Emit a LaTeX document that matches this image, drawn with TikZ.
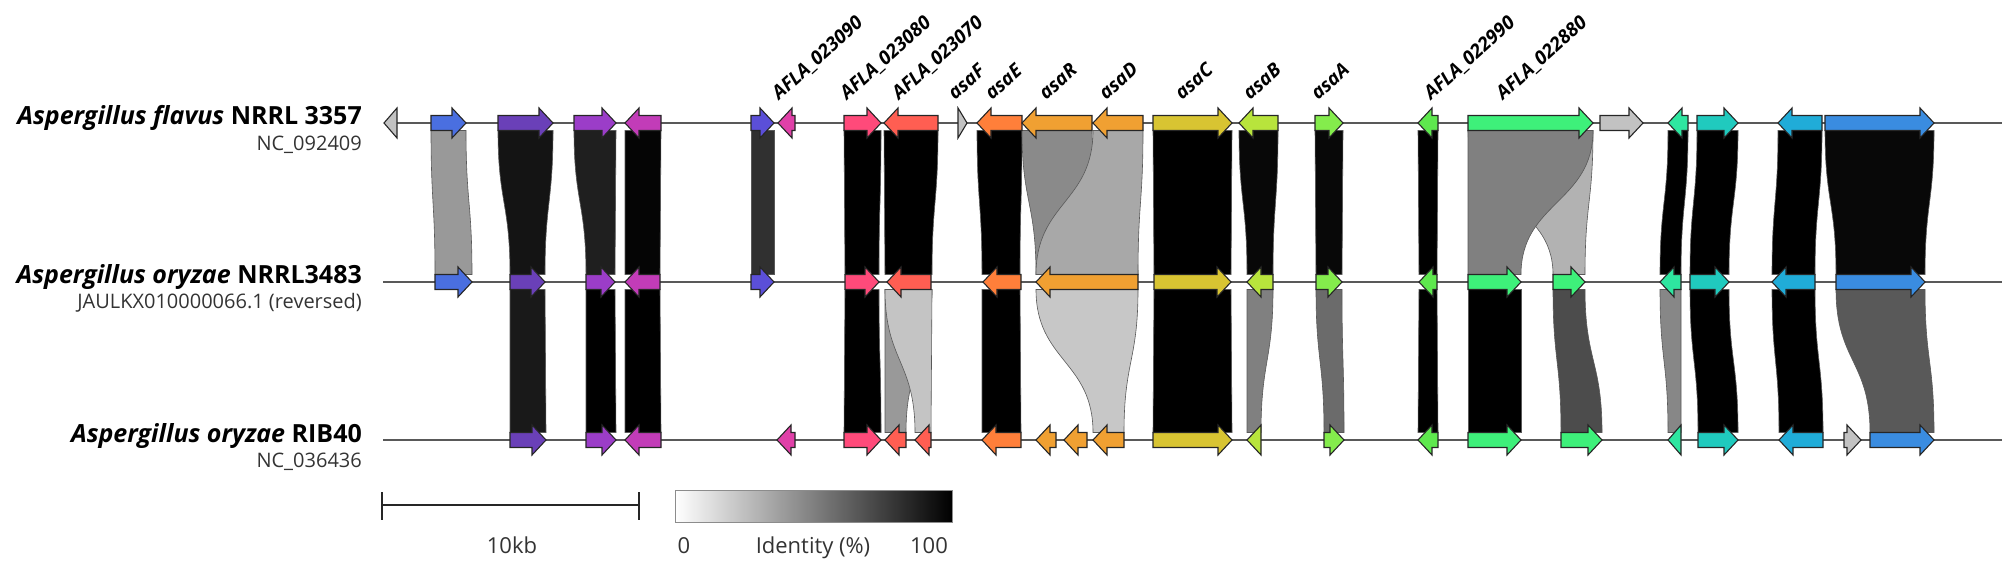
\documentclass[tikz,border=0pt]{standalone}
\usepackage{fontspec}
\setmainfont{Open Sans}
\definecolor{cgray}{HTML}{C2C2C2}
\definecolor{cblueA}{HTML}{4A6FE0}
\definecolor{cpurple}{HTML}{6A40B8}
\definecolor{cviolet}{HTML}{9B3DC8}
\definecolor{cmagenta}{HTML}{C23CB8}
\definecolor{cbviolet}{HTML}{5B4FD8}
\definecolor{cmagB}{HTML}{E040A8}
\definecolor{cpink}{HTML}{FF4A7A}
\definecolor{csalmon}{HTML}{FF5E52}
\definecolor{corangeE}{HTML}{FF7F3A}
\definecolor{corangeR}{HTML}{F0A032}
\definecolor{cyellow}{HTML}{D8C432}
\definecolor{clime}{HTML}{B8E43C}
\definecolor{cgreenA}{HTML}{84EC4C}
\definecolor{cgreenB}{HTML}{5EE84E}
\definecolor{cgreenC}{HTML}{3EF07A}
\definecolor{ctealg}{HTML}{2EE6A0}
\definecolor{cteal}{HTML}{20CABE}
\definecolor{ccyan}{HTML}{20ACD8}
\definecolor{cblueB}{HTML}{3A8CE0}
\definecolor{txtgray}{HTML}{333333}
\tikzset{
  genebox/.style={draw=black!85, line width=1.1pt, line join=miter},
  bandbox/.style={draw=black!65, line width=0.6pt},
  trackline/.style={draw=black!65, line width=1.6pt},
  genelabel/.style={anchor=base west, rotate=42, inner sep=0pt, font=\fontsize{19}{22}\selectfont\bfseries\itshape},
  species/.style={anchor=base east, inner sep=0pt, font=\fontsize{25}{29}\selectfont\bfseries},
  acc/.style={anchor=base east, inner sep=0pt, text=txtgray, font=\fontsize{20}{23}\selectfont},
  legendtxt/.style={anchor=base, inner sep=0pt, text=txtgray, font=\fontsize{22}{25}\selectfont},
}
\newcommand{\drawgene}[5]{%
  \pgfmathsetmacro\ghead{min(14,#2-#1)}%
  \if#4r%
    \filldraw[genebox,fill=#5] (#1,#3-7.5) -- ({#2-\ghead},#3-7.5) -- ({#2-\ghead},#3-15) -- (#2,#3) -- ({#2-\ghead},#3+15) -- ({#2-\ghead},#3+7.5) -- (#1,#3+7.5) -- cycle;
  \else
    \filldraw[genebox,fill=#5] (#2,#3-7.5) -- ({#1+\ghead},#3-7.5) -- ({#1+\ghead},#3-15) -- (#1,#3) -- ({#1+\ghead},#3+15) -- ({#1+\ghead},#3+7.5) -- (#2,#3+7.5) -- cycle;
  \fi}
% top x1 x2, bottom x3 x4, y1 y2, fill
\newcommand{\drawband}[7]{%
  \pgfmathsetmacro\ymid{(#5+#6)/2}%
  \filldraw[bandbox,fill=#7] (#1,#5) .. controls (#1,\ymid) and (#3,\ymid) .. (#3,#6) -- (#4,#6) .. controls (#4,\ymid) and (#2,\ymid) .. (#2,#5) -- cycle;}
\newcommand{\bandTM}[5]{\drawband{#1}{#2}{#3}{#4}{130.5}{274.5}{#5}}
\newcommand{\bandMB}[5]{\drawband{#1}{#2}{#3}{#4}{289.5}{432.5}{#5}}
\begin{document}
\begin{tikzpicture}[x=1pt,y=-1pt]
\useasboundingbox (0,0) rectangle (2008,567);
% ---- bands top -> middle
\bandTM{431}{466}{435}{472}{black!40}
\bandTM{498}{553}{510}{545}{black!92}
\bandTM{574}{616}{586}{615}{black!88}
\bandTM{625}{661}{625}{660}{black!98}
\bandTM{751}{774}{751}{774}{black!81}
\bandTM{844}{881}{845}{879}{black}
\bandTM{884}{938}{885}{932}{black}
\bandTM{977}{1022}{982}{1020}{black}
\bandTM{1022}{1092}{1036}{1138}{black!46}
\bandTM{1093}{1143}{1036}{1138}{black!34}
\bandTM{1153}{1232}{1154}{1231}{black}
\bandTM{1239}{1278}{1247}{1273}{black!97}
\bandTM{1315}{1343}{1316}{1342}{black!97}
\bandTM{1418}{1438}{1419}{1437}{black}
\bandTM{1468}{1593}{1553}{1585}{black!30}
\bandTM{1468}{1593}{1468}{1521}{black!50}
\bandTM{1668}{1688}{1660}{1681}{black}
\bandTM{1697}{1738}{1690}{1729}{black}
\bandTM{1778}{1822}{1772}{1815}{black}
\bandTM{1825}{1934}{1836}{1925}{black!97}
% ---- bands middle -> bottom
\bandMB{510}{545}{510}{546}{black!90}
\bandMB{586}{615}{586}{616}{black}
\bandMB{625}{660}{625}{661}{black}
\bandMB{845}{879}{844}{881}{black}
\bandMB{885}{932}{885}{906}{black!40}
\bandMB{885}{932}{915}{931}{black!23}
\bandMB{982}{1020}{982}{1021}{black}
\bandMB{1036}{1138}{1093}{1124}{black!22}
\bandMB{1154}{1231}{1153}{1232}{black}
\bandMB{1247}{1273}{1247}{1261}{black!50}
\bandMB{1316}{1342}{1324}{1344}{black!58}
\bandMB{1419}{1437}{1418}{1438}{black}
\bandMB{1468}{1521}{1468}{1521}{black}
\bandMB{1553}{1585}{1561}{1602}{black!70}
\bandMB{1660}{1681}{1668}{1681}{black!47}
\bandMB{1690}{1729}{1698}{1738}{black}
\bandMB{1772}{1815}{1779}{1823}{black}
\bandMB{1836}{1925}{1870}{1934}{black!65}
% ---- track lines
\coordinate (t1s) at (384,123); \coordinate (t1e) at (2002,123);
\coordinate (t2s) at (383,282); \coordinate (t2e) at (2002,282);
\coordinate (t3s) at (383,440); \coordinate (t3e) at (2002,440);
\draw[trackline] (t1s) -- (t1e);
\draw[trackline] (t2s) -- (t2e);
\draw[trackline] (t3s) -- (t3e);
% ---- genes top
\drawgene{384}{397}{123}{l}{cgray}
\drawgene{431}{466}{123}{r}{cblueA}
\drawgene{498}{553}{123}{r}{cpurple}
\drawgene{574}{616}{123}{r}{cviolet}
\drawgene{625}{661}{123}{l}{cmagenta}
\drawgene{751}{774}{123}{r}{cbviolet}
\drawgene{778}{795}{123}{l}{cmagB}
\drawgene{844}{881}{123}{r}{cpink}
\drawgene{884}{938}{123}{l}{csalmon}
\drawgene{958}{967}{123}{r}{cgray}
\drawgene{977}{1022}{123}{l}{corangeE}
\drawgene{1022}{1092}{123}{l}{corangeR}
\drawgene{1093}{1143}{123}{l}{corangeR}
\drawgene{1153}{1232}{123}{r}{cyellow}
\drawgene{1239}{1278}{123}{l}{clime}
\drawgene{1315}{1343}{123}{r}{cgreenA}
\drawgene{1418}{1438}{123}{l}{cgreenB}
\drawgene{1468}{1593}{123}{r}{cgreenC}
\drawgene{1600}{1643}{123}{r}{cgray}
\drawgene{1668}{1688}{123}{l}{ctealg}
\drawgene{1697}{1738}{123}{r}{cteal}
\drawgene{1778}{1822}{123}{l}{ccyan}
\drawgene{1825}{1934}{123}{r}{cblueB}
% ---- genes middle
\drawgene{435}{472}{282}{r}{cblueA}
\drawgene{510}{545}{282}{r}{cpurple}
\drawgene{586}{615}{282}{r}{cviolet}
\drawgene{625}{660}{282}{l}{cmagenta}
\drawgene{751}{774}{282}{r}{cbviolet}
\drawgene{845}{879}{282}{r}{cpink}
\drawgene{887}{931}{282}{l}{csalmon}
\drawgene{983}{1021}{282}{l}{corangeE}
\drawgene{1036}{1138}{282}{l}{corangeR}
\drawgene{1154}{1231}{282}{r}{cyellow}
\drawgene{1247}{1273}{282}{l}{clime}
\drawgene{1316}{1342}{282}{r}{cgreenA}
\drawgene{1419}{1437}{282}{l}{cgreenB}
\drawgene{1468}{1521}{282}{r}{cgreenC}
\drawgene{1553}{1585}{282}{r}{cgreenC}
\drawgene{1660}{1681}{282}{l}{ctealg}
\drawgene{1690}{1729}{282}{r}{cteal}
\drawgene{1772}{1815}{282}{l}{ccyan}
\drawgene{1836}{1925}{282}{r}{cblueB}
% ---- genes bottom
\drawgene{510}{546}{440}{r}{cpurple}
\drawgene{586}{616}{440}{r}{cviolet}
\drawgene{625}{661}{440}{l}{cmagenta}
\drawgene{777}{795}{440}{l}{cmagB}
\drawgene{844}{881}{440}{r}{cpink}
\drawgene{885}{906}{440}{l}{csalmon}
\drawgene{915}{931}{440}{l}{csalmon}
\drawgene{982}{1021}{440}{l}{corangeE}
\drawgene{1036}{1056}{440}{l}{corangeR}
\drawgene{1064}{1087}{440}{l}{corangeR}
\drawgene{1093}{1124}{440}{l}{corangeR}
\drawgene{1153}{1232}{440}{r}{cyellow}
\drawgene{1247}{1261}{440}{l}{clime}
\drawgene{1324}{1344}{440}{r}{cgreenA}
\drawgene{1418}{1438}{440}{l}{cgreenB}
\drawgene{1468}{1521}{440}{r}{cgreenC}
\drawgene{1561}{1602}{440}{r}{cgreenC}
\drawgene{1668}{1681}{440}{l}{ctealg}
\drawgene{1698}{1738}{440}{r}{cteal}
\drawgene{1779}{1823}{440}{l}{ccyan}
\drawgene{1844}{1861}{440}{r}{cgray}
\drawgene{1870}{1934}{440}{r}{cblueB}
% ---- gene labels
\node[genelabel] (l1) at (779,101) {AFLA\_023090};
\node[genelabel] (l2) at (847,101) {AFLA\_023080};
\node[genelabel] (l3) at (899,101) {AFLA\_023070};
\node[genelabel] (l4) at (955,101) {asaF};
\node[genelabel] (l5) at (992,101) {asaE};
\node[genelabel] (l6) at (1046,101) {asaR};
\node[genelabel] (l7) at (1106,101) {asaD};
\node[genelabel] (l8) at (1182,101) {asaC};
\node[genelabel] (l9) at (1250,101) {asaB};
\node[genelabel] (l10) at (1318,101) {asaA};
\node[genelabel] (l11) at (1431,101) {AFLA\_022990};
\node[genelabel] (l12) at (1503,101) {AFLA\_022880};
% ---- species labels
\node[species] (s1) at (362,125) {\itshape Aspergillus flavus\/ \upshape NRRL 3357};
\node[acc] (a1) at (362,150) {NC\_092409};
\node[species] (s2) at (362,283) {\itshape Aspergillus oryzae\/ \upshape NRRL3483};
\node[acc] (a2) at (362,308) {JAULKX010000066.1 (reversed)};
\node[species] (s3) at (362,442) {\itshape Aspergillus oryzae\/ \upshape RIB40};
\node[acc] (a3) at (362,467) {NC\_036436};
% ---- scale bar
\coordinate (sbl) at (382,505); \coordinate (sbr) at (639,505);
\draw[line width=1.6pt, draw=black!85] (sbl) -- (sbr);
\draw[line width=1.6pt, draw=black!85] (382,492) -- (382,520);
\draw[line width=1.6pt, draw=black!85] (639,492) -- (639,520);
\node[legendtxt] (kb) at (512,553) {10kb};
% ---- identity colour bar
\shade[left color=white, right color=black] (675,490) rectangle (952,522);
\draw[draw=black!45, line width=1pt] (675,490) rectangle (952,522);
\node[legendtxt] (i0) at (684,553) {0};
\node[legendtxt] (id) at (813,553) {Identity (\%)};
\node[legendtxt] (i100) at (929,553) {100};
\end{tikzpicture}
\end{document}
